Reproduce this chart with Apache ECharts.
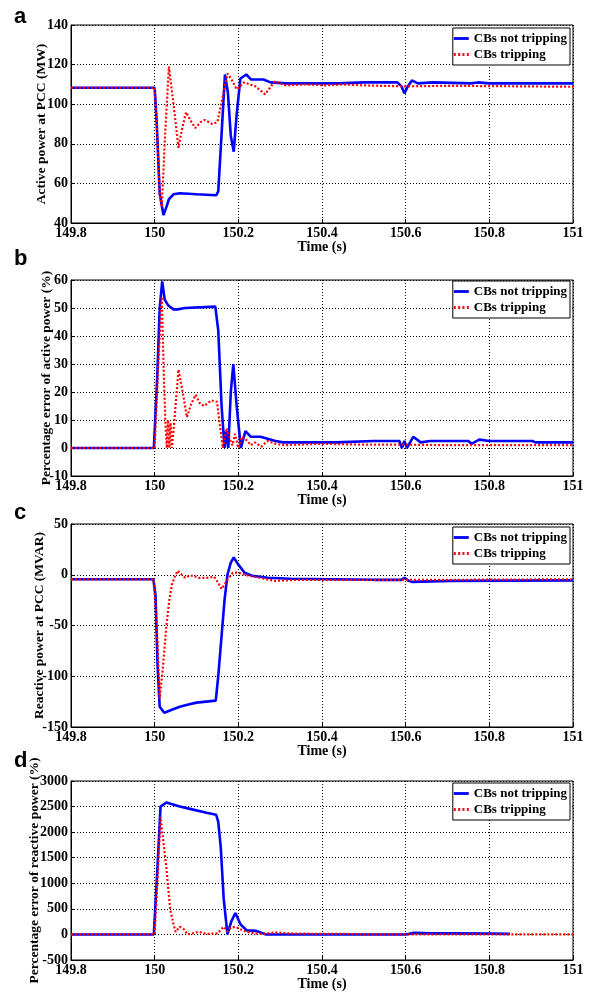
<!DOCTYPE html>
<html>
<head>
<meta charset="utf-8">
<script src="https://cdn.jsdelivr.net/npm/echarts@6/dist/echarts.min.js"></script>
<style>html,body{margin:0;padding:0;background:#fff}#c{width:592px;height:992px}</style>
</head>
<body>
<div id="c"></div>
<script>
// ---------- data ----------
const seriesNames = ['CBs not tripping', 'CBs tripping'];
const xTicks = [149.8, 150, 150.2, 150.4, 150.6, 150.8, 151];
const yNames = ['Active power at PCC (MW)', 'Percentage error of active power (%)', 'Reactive power at PCC (MVAR)', 'Percentage error of reactive power (%)'];
const panelLetters = ['a', 'b', 'c', 'd'];
const yMins = [40, -10, -150, -500];
const yMaxs = [140, 60, 50, 3000];
const yIntervals = [20, 10, 50, 500];

// Panel a: active power (MW)
const tA_not = [149.8, 150.0, 150.005, 150.012, 150.021, 150.028, 150.034, 150.045, 150.06, 150.1, 150.147, 150.152, 150.16, 150.168, 150.175, 150.182, 150.189, 150.196, 150.205, 150.219, 150.23, 150.26, 150.277, 150.314, 150.44, 150.5, 150.58, 150.59, 150.597, 150.605, 150.615, 150.629, 150.665, 150.755, 150.773, 150.8, 151];
const vA_not = [108.3, 108.3, 90, 55, 44, 48, 52, 54.5, 55, 54.5, 54, 56, 85, 115, 106, 84, 76, 95, 113, 115, 112.5, 112.5, 111, 110.5, 110.5, 111, 111, 109, 105.5, 109, 112, 110.5, 111, 110.5, 111, 110.5, 110.5];
const tA_trip = [149.8, 150.0, 150.006, 150.012, 150.017, 150.025, 150.034, 150.045, 150.057, 150.066, 150.075, 150.085, 150.097, 150.11, 150.12, 150.138, 150.15, 150.162, 150.174, 150.185, 150.196, 150.214, 150.241, 150.264, 150.287, 150.314, 150.36, 150.41, 150.45, 150.5, 150.6, 150.7, 150.89, 151];
const vA_trip = [108.3, 108.3, 85, 55, 48, 85, 119, 100, 78, 88, 96, 92, 88, 91, 92, 90, 91, 103, 115.5, 112, 107.5, 111, 109, 105, 111.5, 109.5, 110, 109.5, 110, 109.5, 109, 109.3, 109, 108.8];

// Panel b: percentage error of active power (%)
const tB_not = [149.8, 149.998, 150.006, 150.012, 150.018, 150.024, 150.032, 150.045, 150.055, 150.072, 150.145, 150.152, 150.16, 150.167, 150.171, 150.176, 150.182, 150.188, 150.196, 150.206, 150.217, 150.23, 150.253, 150.289, 150.307, 150.433, 150.524, 150.585, 150.591, 150.597, 150.603, 150.618, 150.636, 150.659, 150.75, 150.757, 150.776, 150.8, 150.903, 150.91, 151];
const vB_not = [0, 0, 25, 50, 59.5, 53, 51, 49.5, 49.5, 50, 50.5, 42, 15, 0, 6, 0, 20, 30, 15, 0, 6, 4, 4, 2.5, 2, 2, 2.5, 2.5, 0, 2.5, 0, 4, 2, 2.5, 2.5, 1.5, 3, 2.5, 2.5, 2, 2];
const tB_trip = [149.8, 150.0, 150.008, 150.017, 150.022, 150.026, 150.029, 150.032, 150.035, 150.038, 150.041, 150.045, 150.057, 150.067, 150.077, 150.088, 150.098, 150.108, 150.118, 150.136, 150.149, 150.156, 150.163, 150.172, 150.18, 150.186, 150.192, 150.2, 150.208, 150.218, 150.23, 150.24, 150.255, 150.27, 150.289, 150.31, 150.4, 150.5, 150.6, 150.7, 151];
const vB_trip = [0, 0, 28, 54, 25, 8, 0, 10, 0, 9, 0, 6, 28, 20, 11, 16, 19, 16, 15, 17, 16.5, 8, 0, 7, 3, 1, 5, 0, 4, 3, 1, 2, 0.5, 2.5, 1.5, 1, 1.5, 1.2, 1.2, 1, 1];

// Panel c: reactive power (MVAR)
const tC_not = [149.8, 149.997, 150.002, 150.007, 150.012, 150.023, 150.041, 150.06, 150.078, 150.1, 150.123, 150.146, 150.152, 150.16, 150.167, 150.174, 150.182, 150.189, 150.2, 150.215, 150.233, 150.27, 150.324, 150.524, 150.59, 150.597, 150.607, 150.615, 150.707, 151];
const vC_not = [-4.5, -4.5, -20, -90, -130, -136, -133, -130, -128, -126, -125, -124, -100, -60, -25, 0, 12, 17, 10, 2, -1, -3, -4, -5, -5, -3, -6, -7, -6, -5.5];
const tC_trip = [149.8, 149.997, 150.004, 150.012, 150.02, 150.028, 150.035, 150.041, 150.048, 150.055, 150.065, 150.073, 150.082, 150.092, 150.105, 150.124, 150.142, 150.152, 150.16, 150.168, 150.174, 150.187, 150.2, 150.215, 150.25, 150.287, 150.35, 150.5, 150.7, 151];
const vC_trip = [-4.5, -4.5, -40, -122, -90, -50, -25, -10, -2, 4, 0, -3, -1, -1, -3, -3, -2, -8, -14, -9, -5, 2, 2, 0, -3, -6, -5, -5, -5, -4.5];

// Panel d: percentage error of reactive power (%)
const tD_not = [149.8, 149.998, 150.006, 150.014, 150.028, 150.04, 150.06, 150.087, 150.124, 150.147, 150.152, 150.158, 150.165, 150.174, 150.183, 150.193, 150.205, 150.22, 150.243, 150.266, 150.6, 150.62, 150.66, 150.7, 150.8, 150.849];
const vD_not = [0, 0, 1200, 2500, 2580, 2550, 2500, 2450, 2380, 2340, 2200, 1700, 700, 0, 250, 420, 200, 80, 70, 0, 0, 30, 20, 20, 15, 10];
const tD_trip = [149.8, 150.0, 150.007, 150.014, 150.021, 150.028, 150.037, 150.045, 150.05, 150.06, 150.07, 150.078, 150.09, 150.105, 150.125, 150.15, 150.165, 150.174, 150.182, 150.193, 150.205, 150.22, 150.24, 150.26, 150.289, 150.32, 150.4, 150.46, 150.5, 151];
const vD_trip = [0, 0, 1100, 2300, 1800, 1300, 500, 200, 50, 150, 100, 0, 20, 50, 10, 20, 150, 60, 130, 150, 100, 50, 20, 10, 40, 20, 10, 10, 0, 0];

// ---------- layout ----------
const zip = (t, v) => t.map((x, i) => [x, v[i]]);
const panelData = [
  [zip(tA_not, vA_not), zip(tA_trip, vA_trip)],
  [zip(tB_not, vB_not), zip(tB_trip, vB_trip)],
  [zip(tC_not, vC_not), zip(tC_trip, vC_trip)],
  [zip(tD_not, vD_not), zip(tD_trip, vD_trip)]
];
const gridTops = [25, 280, 524, 781];
const gridHeights = [198, 196, 203, 185];
const yNameGaps = [22, 17, 24, 29];
const legendTops = [28, 281, 527, 783];
const letterTops = [6, 248, 502, 750];

const serif = 'Liberation Serif';
const labelStyle = {color: '#000', fontFamily: serif, fontWeight: 'bold', fontSize: 14};
const iconSolid = 'path://M0,0H16V3H0Z';
const iconDotted = 'path://M0,0h2v3h-2z M4.5,0h2v3h-2z M9,0h2v3h-2z M13.5,0h2v3h-2z';

const grids = [], xAxes = [], yAxes = [], series = [], legends = [], graphics = [];
for (let i = 0; i < 4; i++) {
  grids.push({left: 71, right: 19, top: gridTops[i], height: gridHeights[i], show: true, borderColor: '#000', borderWidth: 1, backgroundColor: '#fff'});
  xAxes.push({
    type: 'value', gridIndex: i, min: 149.8, max: 151, interval: 0.2,
    name: 'Time (s)', nameLocation: 'middle', nameGap: 17, nameMoveOverlap: false,
    nameTextStyle: {color: '#000', fontFamily: serif, fontWeight: 'bold', fontSize: 14},
    axisLine: {onZero: false, lineStyle: {color: '#000', width: 1}},
    axisTick: {show: true, inside: true, length: 4, lineStyle: {color: '#000'}},
    axisLabel: Object.assign({margin: 3, formatter: v => String(+v.toFixed(1))}, labelStyle),
    splitLine: {show: true, lineStyle: {color: '#000', type: [1, 2], width: 1}}
  });
  yAxes.push({
    type: 'value', gridIndex: i, min: yMins[i], max: yMaxs[i], interval: yIntervals[i],
    name: yNames[i], nameLocation: 'middle', nameRotate: 90, nameGap: yNameGaps[i], nameMoveOverlap: false,
    nameTextStyle: {color: '#000', fontFamily: serif, fontWeight: 'bold', fontSize: 13.5},
    axisLine: {show: true, onZero: false, lineStyle: {color: '#000', width: 1}},
    axisTick: {show: true, inside: true, length: 4, lineStyle: {color: '#000'}},
    axisLabel: Object.assign({margin: 3, formatter: v => String(v)}, labelStyle),
    splitLine: {show: true, lineStyle: {color: '#000', type: [1, 2], width: 1}}
  });
  series.push({
    name: seriesNames[0], type: 'line', xAxisIndex: i, yAxisIndex: i,
    data: panelData[i][0], symbol: 'none', showSymbol: false, animation: false,
    lineStyle: {color: '#0000ff', width: 2.6}, itemStyle: {color: '#0000ff'}
  });
  series.push({
    name: seriesNames[1], type: 'line', xAxisIndex: i, yAxisIndex: i,
    data: panelData[i][1], symbol: 'none', showSymbol: false, animation: false,
    lineStyle: {color: '#ff0000', width: 2.2, type: [2, 2]}, itemStyle: {color: '#ff0000'}
  });
  legends.push({
    data: [{name: seriesNames[0], icon: iconSolid}, {name: seriesNames[1], icon: iconDotted}],
    orient: 'vertical', right: 22, top: legendTops[i],
    backgroundColor: '#fff', borderColor: '#000', borderWidth: 1,
    padding: [3, 3, 3, 1], itemGap: 1, itemWidth: 15, itemHeight: 3,
    selectedMode: false,
    textStyle: {color: '#000', fontFamily: serif, fontWeight: 'bold', fontSize: 13, lineHeight: 15}
  });
  graphics.push({
    type: 'text', left: 14, top: letterTops[i],
    style: {text: panelLetters[i], fill: '#000', font: 'bold 22px "Liberation Sans", Arial, sans-serif'}
  });
}

const chart = echarts.init(document.getElementById('c'), null, {renderer: 'canvas'});
chart.setOption({
  animation: false,
  backgroundColor: '#fff',
  grid: grids, xAxis: xAxes, yAxis: yAxes, series: series, legend: legends, graphic: graphics
});
</script>
</body>
</html>
